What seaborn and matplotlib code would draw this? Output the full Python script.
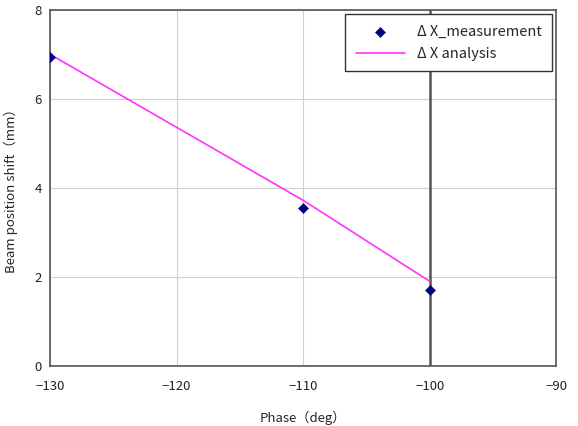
import matplotlib
matplotlib.use("Agg")
import matplotlib.pyplot as plt
import seaborn as sns
import pandas as pd

# data
phase_meas = [-130, -110, -100]
shift_meas = [6.94, 3.55, 1.71]
phase_calc = [-130, -110, -100]
shift_calc = [7.0, 3.72, 1.9]

sns.set_style("white")
plt.rcParams['font.family'] = ['Noto Sans CJK JP', 'DejaVu Sans']

meas = pd.DataFrame({'phase': phase_meas, 'shift': shift_meas})
calc = pd.DataFrame({'phase': phase_calc, 'shift': shift_calc})

fig = plt.figure(figsize=(5.78, 4.26), dpi=100)
ax = fig.add_axes([0.0865, 0.141, 0.876, 0.836])

sns.lineplot(data=calc, x='phase', y='shift', ax=ax, color='#ff33ff', linewidth=1.2,
             label='Δ X analysis', zorder=3)
sns.scatterplot(data=meas, x='phase', y='shift', ax=ax, color='#000080', marker='D', s=26,
                edgecolor='#000080', label='Δ X_measurement', zorder=4)

ax.axvline(-100, color='#555555', linewidth=1.8, zorder=2)

ax.set_xlim(-130, -90)
ax.set_ylim(0, 8)
ax.set_xticks([-130, -120, -110, -100, -90])
ax.set_yticks([0, 2, 4, 6, 8])
ax.set_xticklabels(['−130', '−120', '−110', '−100', '−90'])
ax.grid(True, color='#d0d0d0', linewidth=0.8)
ax.tick_params(direction='in', length=4, labelsize=9.5, colors='#222222', width=1)
ax.tick_params(axis='x', pad=10)
ax.tick_params(axis='y', pad=6)
for s in ax.spines.values():
    s.set_color('#555555')
    s.set_linewidth(1.2)

ax.set_xlabel('Phase（deg）', fontsize=9.5, labelpad=13)
ax.set_ylabel('Beam position shift（mm）', fontsize=9.5, labelpad=12)

handles, labels = ax.get_legend_handles_labels()
order = [labels.index('Δ X_measurement'), labels.index('Δ X analysis')]
leg = ax.legend([handles[i] for i in order], [labels[i] for i in order],
                loc='upper right', fontsize=10.5, frameon=True, fancybox=False,
                edgecolor='#333333', framealpha=1, borderaxespad=0.3,
                borderpad=0.7, labelspacing=0.6, handlelength=3.4, handletextpad=0.8)
leg.get_frame().set_linewidth(1.0)

fig.savefig('out.png', dpi=100)
